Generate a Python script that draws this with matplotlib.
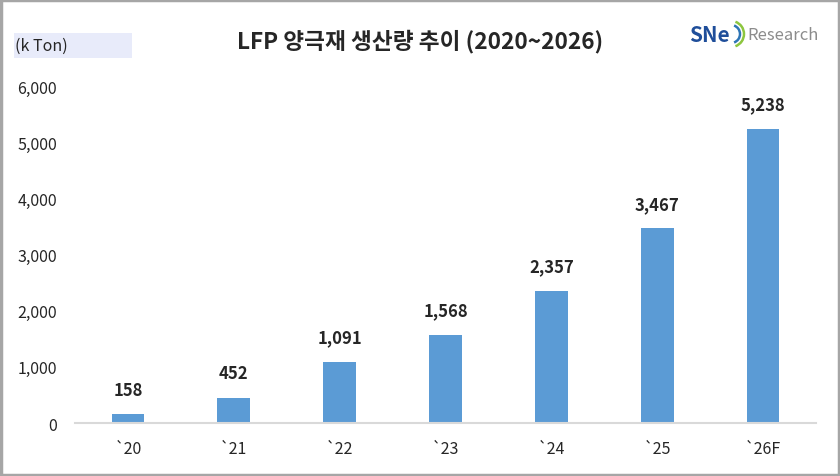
import matplotlib.pyplot as plt
from matplotlib.patches import Rectangle, Arc

plt.rcParams['font.family'] = ['Noto Sans CJK KR', 'DejaVu Sans']

# -----------------------------
# Data
# -----------------------------
years = ["`20", "`21", "`22", "`23", "`24", "`25", "`26F"]
production = [158, 452, 1091, 1568, 2357, 3467, 5238]
yticks = [0, 1000, 2000, 3000, 4000, 5000, 6000]

bar_color = "#5B9BD5"
text_color = "#262626"

fig = plt.figure(figsize=(8.4, 4.77), dpi=100)

# -----------------------------
# Main bar chart
# -----------------------------
ax = fig.add_axes([0.0893, 0.1111, 0.8821, 0.7065])
x = range(len(years))
bars = ax.bar(x, production, width=0.31, color=bar_color, zorder=2)

ax.set_xlim(-0.5, len(years) - 0.5)
ax.set_ylim(0, 6000)
ax.set_yticks(yticks)
ax.set_yticklabels([f"{v:,}" for v in yticks])
ax.set_xticks(list(x))
ax.set_xticklabels(years)

for s in ["top", "right", "left"]:
    ax.spines[s].set_visible(False)
ax.spines["bottom"].set_color("#D9D9D9")
ax.spines["bottom"].set_linewidth(1.5)

ax.tick_params(axis="y", length=0, pad=13, labelsize=11.5, labelcolor=text_color)
ax.tick_params(axis="x", length=0, pad=12, labelsize=11.5, labelcolor=text_color)

for b, v in zip(bars, production):
    ax.annotate(f"{v:,}", (b.get_x() + b.get_width() / 2, v),
                xytext=(0, 11), textcoords="offset points",
                ha="center", va="bottom", fontsize=12, fontweight="bold",
                color=text_color)

# -----------------------------
# Title, unit label, logo
# -----------------------------
fig.text(0.5, 0.912, "LFP 양극재 생산량 추이 (2020~2026)", ha="center", va="center",
         fontsize=16.3, fontweight="bold", color=text_color)

fig.text(0.018, 0.902, "(k Ton)", ha="left", va="center", fontsize=11.5,
         color=text_color)
fig.patches.append(Rectangle((14 / 840, 1 - 59 / 477), 118 / 840, 25 / 477,
                             transform=fig.transFigure, facecolor="#E8EBFA",
                             edgecolor="none", zorder=-1))

fig.text(689 / 840, 1 - 35 / 477, "SNe", ha="left", va="center", fontsize=15,
         fontweight="bold", color="#1F4E9A")
arc_cx, arc_cy = 7.31, 4.42
for r, c in [(0.09, "#2E75B6"), (0.13, "#8DC63F")]:
    fig.patches.append(Arc((arc_cx, arc_cy), 2 * r, 2 * r, theta1=-70, theta2=70,
                           transform=fig.dpi_scale_trans, color=c, lw=1.8))
fig.text(747 / 840, 1 - 35 / 477, "Research", ha="left", va="center",
         fontsize=12, color="#8C8C8C")

# Figure border
fig.patches.append(Rectangle((0.0015, 0.002), 0.997, 0.996, transform=fig.transFigure,
                             facecolor="none", edgecolor="#A6A6A6", linewidth=2.5))

fig.savefig("out.png", dpi=100)
